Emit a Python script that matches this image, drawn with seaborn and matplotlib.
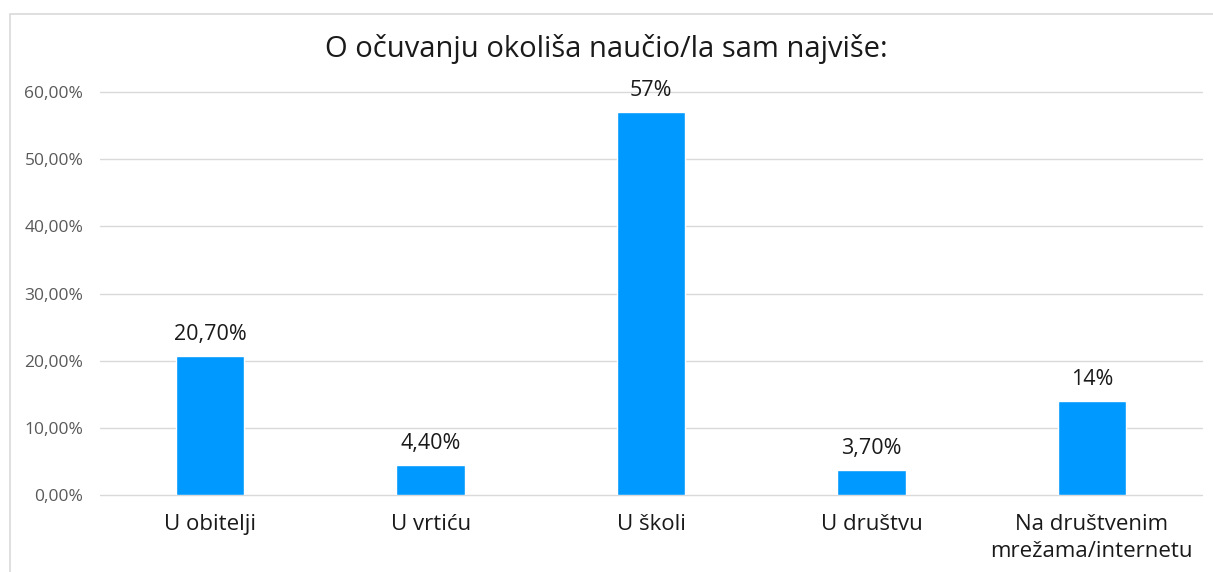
import matplotlib
matplotlib.use("Agg")
import matplotlib.pyplot as plt
import seaborn as sns
import pandas as pd
from matplotlib.patches import Rectangle
from matplotlib.ticker import FuncFormatter

sns.set_style("white")
plt.rcParams['font.family'] = ['Open Sans', 'DejaVu Sans']

categories = ["U obitelji", "U vrtiću", "U školi", "U društvu", "Na društvenim\nmrežama/internetu"]
values = [0.207, 0.044, 0.57, 0.037, 0.14]
labels = ["20,70%", "4,40%", "57%", "3,70%", "14%"]

df = pd.DataFrame({"cat": categories, "val": values})

fig = plt.figure(figsize=(12.13, 5.72), dpi=100)
fig.patches.append(Rectangle((10 / 1213, -0.1), 1.2, 1 - 14 / 572 + 0.1,
                             transform=fig.transFigure, fill=False,
                             edgecolor="#d9d9d9", linewidth=1.2))
ax = fig.add_axes([100 / 1213, 1 - 495 / 572, 1102 / 1213, (495 - 92) / 572])

sns.barplot(data=df, x="cat", y="val", color="#0099ff", width=0.31,
            saturation=1, ax=ax)

ax.set_ylim(0, 0.6)
ax.set_yticks([i / 10 for i in range(7)])
ax.yaxis.set_major_formatter(FuncFormatter(lambda v, p: f"{v*100:.2f}%".replace(".", ",")))
ax.grid(axis="y", color="#d9d9d9", linewidth=1)
for gl in ax.get_ygridlines():
    gl.set_clip_on(False)
ax.set_axisbelow(True)
for s in ax.spines.values():
    s.set_visible(False)
ax.tick_params(axis="y", labelsize=12.5, labelcolor="#595959", length=0, pad=12)
ax.tick_params(axis="x", labelsize=16, labelcolor="#1a1a1a", length=0, pad=14)
ax.set_xlabel("")
ax.set_ylabel("")
for t in ax.get_xticklabels():
    t.set_linespacing(1.35)

for i, (v, t) in enumerate(zip(values, labels)):
    ax.annotate(t, (i, v), xytext=(0, 8), textcoords="offset points",
                ha="center", va="bottom", fontsize=15.5, color="#1a1a1a")

fig.text(0.5, 1 - 49 / 572, "O očuvanju okoliša naučio/la sam najviše:",
         ha="center", va="center", fontsize=21, color="#1a1a1a")

fig.savefig("out.png", dpi=100)
